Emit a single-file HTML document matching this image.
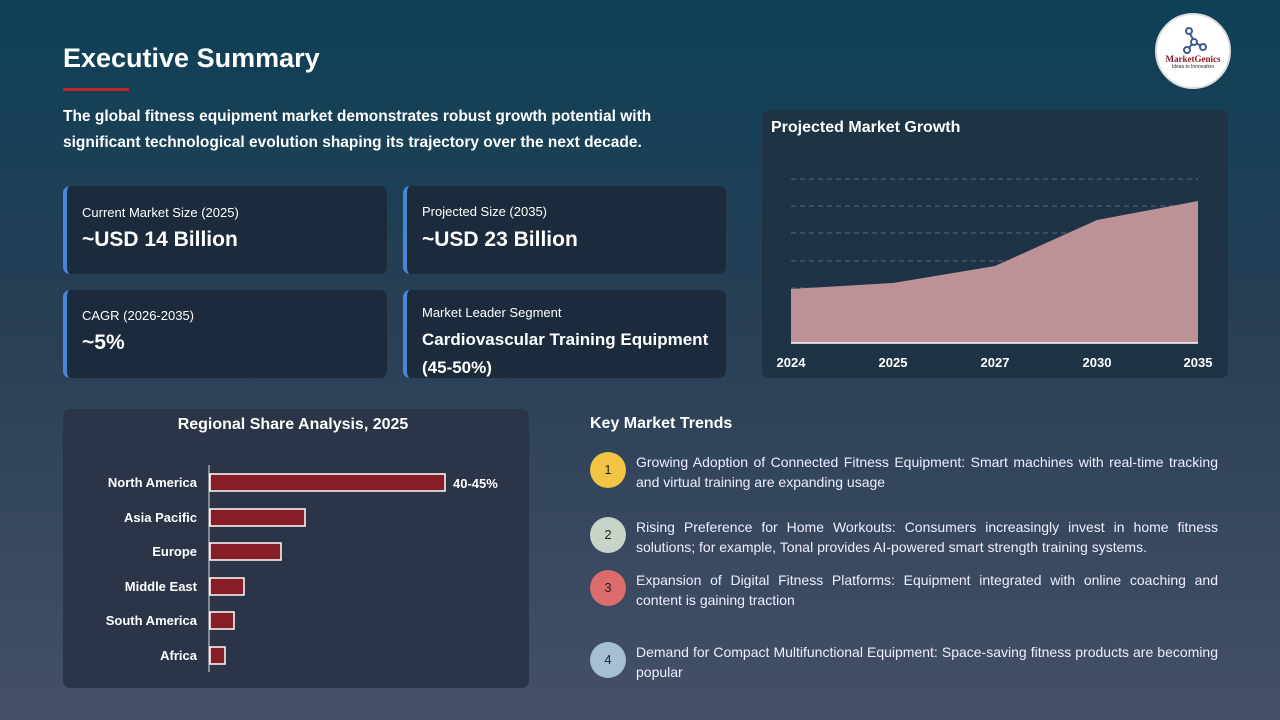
<!DOCTYPE html>
<html><head><meta charset="utf-8"><style>
*{margin:0;padding:0;box-sizing:border-box}
body{width:1280px;height:720px;overflow:hidden;font-family:"Liberation Sans",sans-serif;color:#fff;background:linear-gradient(180deg,#0d4057 0%,#283f55 45%,#445068 100%);position:relative}
.a{position:absolute}
h1{position:absolute;left:63px;top:43px;font-size:27px;font-weight:bold}
.card{position:absolute;background:#1c2b3b;border-radius:7px;border-left:4px solid #4a86d8}
.card .l{position:absolute;left:15px;font-size:13px}
.card .v{position:absolute;left:15px;font-size:21px;font-weight:bold}
.panel{position:absolute;background:#2b3547;border-radius:7px}
.trend{position:absolute;left:590px;width:628px;font-size:14px;line-height:20px;color:#eef}
.trend .c{position:absolute;left:0;top:0;width:36px;height:36px;border-radius:50%;color:#222;font-size:13px;text-align:center;line-height:36px}
.trend p{margin-left:46px;text-align:justify}
</style></head><body>
<h1>Executive Summary</h1>
<div class="a" style="left:63px;top:88px;width:66px;height:3px;background:#c0262d"></div>
<div class="a" style="left:63px;top:104px;font-size:15.5px;font-weight:bold;line-height:26px;width:660px">The global fitness equipment market demonstrates robust growth potential with significant technological evolution shaping its trajectory over the next decade.</div>
<div class="a" style="left:1155px;top:13px;width:76px;height:76px;border-radius:50%;background:#fff;border:2px solid #ddd;color:#8b1a2a;text-align:center">
<svg width="30" height="30" style="position:absolute;left:22px;top:10px" viewBox="0 0 30 30" fill="none" stroke="#3b5a8a" stroke-width="2"><circle cx="10" cy="6" r="3"/><circle cx="15" cy="17" r="3"/><circle cx="8" cy="25" r="3"/><circle cx="24" cy="22" r="3"/><path d="M11 9L14 14M13 19L10 23M17 18L22 21"/></svg>
<div style="position:absolute;top:39px;width:100%;font-family:'Liberation Serif',serif;font-size:9px;font-weight:bold">MarketGenics</div>
<div style="position:absolute;top:49px;width:100%;font-size:5px;color:#223">Ideas to Innovation</div></div>
<div class="card" style="left:63px;top:186px;width:324px;height:88px"><div class="l" style="top:19px">Current Market Size (2025)</div><div class="v" style="top:42px">~USD 14 Billion</div></div>
<div class="card" style="left:403px;top:186px;width:323px;height:88px"><div class="l" style="top:18px">Projected Size (2035)</div><div class="v" style="top:42px">~USD 23 Billion</div></div>
<div class="card" style="left:63px;top:290px;width:324px;height:88px"><div class="l" style="top:18px">CAGR (2026-2035)</div><div class="v" style="top:41px">~5%</div></div>
<div class="card" style="left:403px;top:290px;width:323px;height:88px"><div class="l" style="top:15px">Market Leader Segment</div><div class="v" style="top:36px;font-size:17px;line-height:28px;width:300px">Cardiovascular Training Equipment (45-50%)</div></div>
<div class="panel" style="left:762px;top:110px;width:466px;height:268px;background:#1f3347"></div>
<svg class="a" style="left:0;top:0" width="1280" height="720">
<text x="771" y="132" fill="#fff" font-size="16" font-weight="bold" font-family="Liberation Sans">Projected Market Growth</text>
<g stroke="#5a6a7a" stroke-dasharray="5,4"><line x1="791" x2="1198" y1="179" y2="179"/><line x1="791" x2="1198" y1="206" y2="206"/><line x1="791" x2="1198" y1="233" y2="233"/><line x1="791" x2="1198" y1="261" y2="261"/><line x1="791" x2="1198" y1="288" y2="288"/><line x1="791" x2="1198" y1="315" y2="315"/></g>
<polygon points="791,289 893,283 995,266 1097,220 1198,201 1198,343 791,343" fill="#bc9297"/>
<line x1="791" x2="1198" y1="343" y2="343" stroke="#fff" stroke-width="1.5"/>
<g fill="#fff" font-size="13" font-weight="bold" font-family="Liberation Sans" text-anchor="middle"><text x="791" y="367">2024</text><text x="893" y="367">2025</text><text x="995" y="367">2027</text><text x="1097" y="367">2030</text><text x="1198" y="367">2035</text></g>
</svg>
<div class="panel" style="left:63px;top:409px;width:466px;height:279px"></div>
<svg class="a" style="left:0;top:0" width="1280" height="720">
<text x="293" y="429" fill="#fff" font-size="16" font-weight="bold" font-family="Liberation Sans" text-anchor="middle">Regional Share Analysis, 2025</text>
<line x1="209" x2="209" y1="465" y2="672" stroke="#ddd"/>
<g fill="#861e27" stroke="#fff" stroke-width="1.5">
<rect x="210" y="474" width="235" height="17"/><rect x="210" y="509" width="95" height="17"/><rect x="210" y="543" width="71" height="17"/><rect x="210" y="578" width="34" height="17"/><rect x="210" y="612" width="24" height="17"/><rect x="210" y="647" width="15" height="17"/></g>
<g fill="#fff" font-size="13" font-weight="bold" font-family="Liberation Sans" text-anchor="end">
<text x="197" y="487">North America</text><text x="197" y="522">Asia Pacific</text><text x="197" y="556">Europe</text><text x="197" y="591">Middle East</text><text x="197" y="625">South America</text><text x="197" y="660">Africa</text></g>
<text x="453" y="488" fill="#fff" font-size="13" font-weight="bold" font-family="Liberation Sans">40-45%</text>
</svg>
<div class="a" style="left:590px;top:415px;font-size:16px;font-weight:bold">Key Market Trends</div>
<div class="trend" style="top:452px"><div class="c" style="background:#f2c443">1</div><p>Growing Adoption of Connected Fitness Equipment: Smart machines with real-time tracking and virtual training are expanding usage</p></div>
<div class="trend" style="top:517px"><div class="c" style="background:#c9d4c8;top:0">2</div><p>Rising Preference for Home Workouts: Consumers increasingly invest in home fitness solutions; for example, Tonal provides AI-powered smart strength training systems.</p></div>
<div class="trend" style="top:570px"><div class="c" style="background:#dc6b6b">3</div><p>Expansion of Digital Fitness Platforms: Equipment integrated with online coaching and content is gaining traction</p></div>
<div class="trend" style="top:642px"><div class="c" style="background:#a7bfd2">4</div><p>Demand for Compact Multifunctional Equipment: Space-saving fitness products are becoming popular</p></div>
</body></html>
